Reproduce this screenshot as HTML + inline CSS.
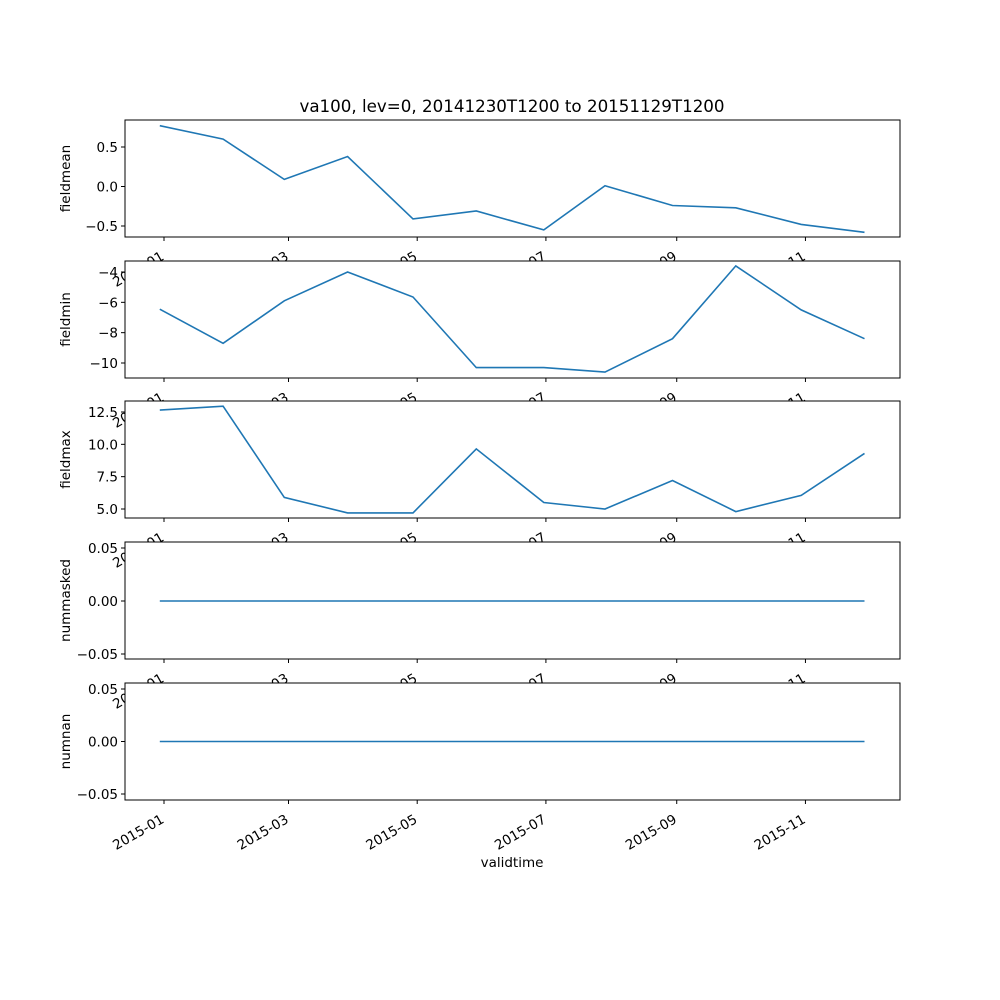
<!DOCTYPE html>
<html><head><meta charset="utf-8"><style>body{margin:0;background:#fff}svg{display:block}text{font-family:"DejaVu Sans","Liberation Sans",sans-serif;fill:#000}</style></head>
<body>
<svg id="c" width="1000" height="1000" xmlns="http://www.w3.org/2000/svg"></svg>
<script>
const dates=["2014-12-30","2015-01-29","2015-02-27","2015-03-29","2015-04-29","2015-05-29","2015-06-30","2015-07-29","2015-08-30","2015-09-29","2015-10-30","2015-11-29"];
const fieldmean=[0.77,0.6,0.09,0.38,-0.41,-0.31,-0.55,0.01,-0.24,-0.27,-0.48,-0.58];
const fieldmin=[-6.45,-8.7,-5.9,-4.0,-5.65,-10.3,-10.3,-10.6,-8.4,-3.6,-6.5,-8.4];
const fieldmax=[12.65,12.95,5.9,4.7,4.7,9.65,5.5,5.0,7.2,4.8,6.05,9.3];
const nummasked=[0,0,0,0,0,0,0,0,0,0,0,0];
const numnan=[0,0,0,0,0,0,0,0,0,0,0,0];
const xTickLabels=["2015-01","2015-03","2015-05","2015-07","2015-09","2015-11"];
const meanTicks=[0.5,0.0,-0.5], minTicks=[-4,-6,-8,-10], maxTicks=[12.5,10.0,7.5,5.0], zeroTicks=[0.05,0.00,-0.05];
const NS="http://www.w3.org/2000/svg", svg=document.getElementById('c');
function mk(t,a,p){const e=document.createElementNS(NS,t);for(const k in a)e.setAttribute(k,a[k]);(p||svg).appendChild(e);return e;}
const D0=Date.parse("2015-01-01");
function xs(d){return 164+(Date.parse(d)-D0)/86400000*2.11;}
const panels=[
 {name:"fieldmean",top:120,vals:fieldmean,ticks:meanTicks,fmt:v=>v.toFixed(1),a:0.5,ya:147,b:-0.5,yb:226},
 {name:"fieldmin",top:261,vals:fieldmin,ticks:minTicks,fmt:v=>String(v),a:-4,ya:272,b:-10,yb:363},
 {name:"fieldmax",top:401,vals:fieldmax,ticks:maxTicks,fmt:v=>v.toFixed(1),a:12.5,ya:412,b:5.0,yb:509},
 {name:"nummasked",top:542,vals:nummasked,ticks:zeroTicks,fmt:v=>v.toFixed(2),a:0.05,ya:548,b:-0.05,yb:654},
 {name:"numnan",top:683,vals:numnan,ticks:zeroTicks,fmt:v=>v.toFixed(2),a:0.05,ya:689,b:-0.05,yb:794}];
const L=125,R=900,H=117;
const title=mk('text',{x:512,y:112,'text-anchor':'middle','font-size':16.7});
title.textContent="va100, lev=0, 20141230T1200 to 20151129T1200";


panels.forEach((p,i)=>{
 const g=mk('g',{});
 
 
 const ys=v=>p.ya+(v-p.a)*(p.yb-p.ya)/(p.b-p.a);
 mk('rect',{x:L,y:p.top,width:R-L,height:H,fill:'#fff'},g);
 const pts=dates.map((d,j)=>xs(d).toFixed(1)+','+ys(p.vals[j]).toFixed(1)).join(' ');
 const line=mk('polyline',{points:pts,fill:'none',stroke:'#1f77b4','stroke-width':1.6},g);
 
 
 mk('rect',{x:L,y:p.top,width:R-L,height:H,fill:'none',stroke:'#000','stroke-width':1},g);
 p.ticks.forEach(t=>{const y=ys(t);mk('line',{x1:L-4,x2:L,y1:y,y2:y,stroke:'#000'},g);
  const tx=mk('text',{x:L-7,y:y+5,'text-anchor':'end','font-size':13.5},g);tx.textContent=p.fmt(t).replace('-','−');
  
  });
 const yl=mk('text',{x:0,y:0,'text-anchor':'middle','font-size':13.5,transform:`translate(${L-55},${p.top+H/2}) rotate(-90)`},g);
 yl.textContent=p.name;
 
 
 const bot=p.top+H;
 xTickLabels.forEach(lab=>{const x=xs(lab+"-01");mk('line',{x1:x,x2:x,y1:bot,y2:bot+4,stroke:'#000'},g);
  const tx=mk('text',{x:0,y:0,'text-anchor':'end','font-size':13.5,transform:`translate(${x+1},${bot+22}) rotate(-30)`},g);tx.textContent=lab;
  
  });
});
const xl=mk('text',{x:512,y:867,'text-anchor':'middle','font-size':13.5});
xl.textContent="validtime";


</script>
</body></html>
